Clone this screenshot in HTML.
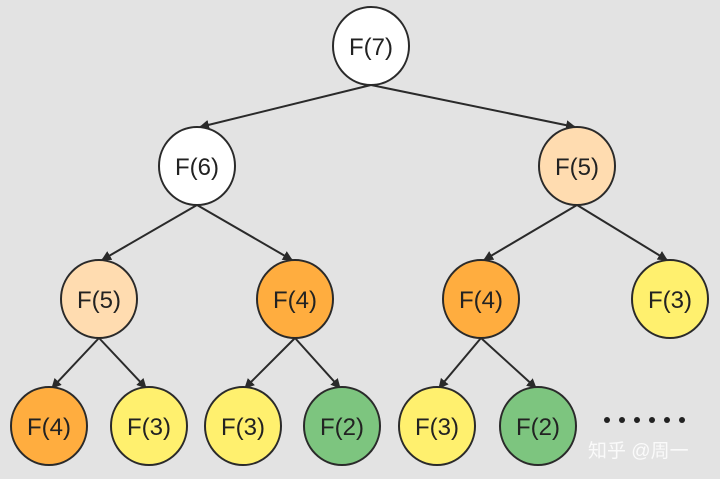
<!DOCTYPE html>
<html><head><meta charset="utf-8"><style>
html,body{margin:0;padding:0;background:#e3e3e3;}
svg{display:block}
text{font-family:"Liberation Sans","DejaVu Sans",sans-serif;font-size:24px;fill:#222;}
</style></head><body>
<svg width="720" height="479" viewBox="0 0 720 479" xmlns="http://www.w3.org/2000/svg">
<defs><marker id="a" markerWidth="10" markerHeight="10" refX="9" refY="5" orient="auto" markerUnits="userSpaceOnUse">
<path d="M0,0 L10,5 L0,10 z" fill="#2a2a2a"/></marker></defs>
<rect width="720" height="479" fill="#e3e3e3"/>
<g stroke="#2a2a2a" stroke-width="2" marker-end="url(#a)">
<line x1="371" y1="85" x2="200" y2="127"/>
<line x1="371" y1="85" x2="575" y2="127"/>
<line x1="197" y1="205" x2="102" y2="260"/>
<line x1="197" y1="205" x2="292" y2="260"/>
<line x1="577" y1="205" x2="484" y2="260"/>
<line x1="577" y1="205" x2="667" y2="260"/>
<line x1="99" y1="338" x2="52" y2="388"/>
<line x1="99" y1="338" x2="146" y2="388"/>
<line x1="295" y1="338" x2="245" y2="388"/>
<line x1="295" y1="338" x2="340" y2="388"/>
<line x1="481" y1="338" x2="439" y2="388"/>
<line x1="481" y1="338" x2="536" y2="388"/>
</g>
<g stroke="#2a2a2a" stroke-width="2">
<ellipse cx="371" cy="46" rx="38" ry="39" fill="#ffffff"/>
<ellipse cx="197" cy="166" rx="38" ry="39" fill="#ffffff"/>
<ellipse cx="577" cy="166" rx="38" ry="39" fill="#ffdcb0"/>
<ellipse cx="99" cy="299" rx="38" ry="39" fill="#ffdcb0"/>
<ellipse cx="295" cy="299" rx="38" ry="39" fill="#ffad3f"/>
<ellipse cx="481" cy="299" rx="38" ry="39" fill="#ffad3f"/>
<ellipse cx="670" cy="299" rx="38" ry="39" fill="#fff06e"/>
<ellipse cx="49" cy="426" rx="38" ry="39" fill="#ffad3f"/>
<ellipse cx="149" cy="426" rx="38" ry="39" fill="#fff06e"/>
<ellipse cx="243" cy="426" rx="38" ry="39" fill="#fff06e"/>
<ellipse cx="342" cy="426" rx="38" ry="39" fill="#7dc57f"/>
<ellipse cx="437" cy="426" rx="38" ry="39" fill="#fff06e"/>
<ellipse cx="538" cy="426" rx="38" ry="39" fill="#7dc57f"/>
</g>
<g text-anchor="middle">
<text x="371" y="55">F(7)</text>
<text x="197" y="175">F(6)</text>
<text x="577" y="175">F(5)</text>
<text x="99" y="308">F(5)</text>
<text x="295" y="308">F(4)</text>
<text x="481" y="308">F(4)</text>
<text x="670" y="308">F(3)</text>
<text x="49" y="435">F(4)</text>
<text x="149" y="435">F(3)</text>
<text x="243" y="435">F(3)</text>
<text x="342" y="435">F(2)</text>
<text x="437" y="435">F(3)</text>
<text x="538" y="435">F(2)</text>
</g>
<g fill="#222">
<circle cx="607" cy="420" r="3"/><circle cx="622" cy="420" r="3"/><circle cx="637" cy="420" r="3"/>
<circle cx="652" cy="420" r="3"/><circle cx="667" cy="420" r="3"/><circle cx="682" cy="420" r="3"/>
</g>
<text x="588" y="457" style="font-family:'Liberation Sans','Noto Sans CJK SC',sans-serif;font-size:19px;fill:#fafafa">知乎 @周一</text>
</svg>
</body></html>
